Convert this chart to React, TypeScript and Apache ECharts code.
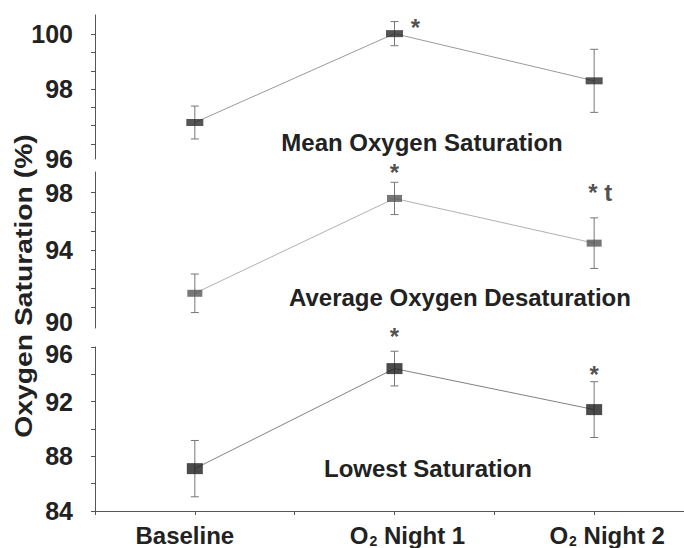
import React, { useEffect, useRef } from "react";
import * as echarts from "echarts";

// ---- data ----
const categories = ["Baseline", "O2 Night 1", "O2 Night 2"];
const xPositions = [1, 2, 3];

const meanSat = [96.78, 100.02, 98.3];
const meanSatSd = [0.6, 0.44, 1.15];

const avgDesat = [90.96, 97.6, 94.47];
const avgDesatSd = [1.35, 1.13, 1.77];

const lowestSat = [87.1, 94.42, 91.42];
const lowestSatSd = [2.06, 1.27, 2.04];

const panelTitles = ["Mean Oxygen Saturation", "Average Oxygen Desaturation", "Lowest Saturation"];

// significance marks: [x, y, text]
const meanSatMarks: [number, number, string][] = [[2.105, 100.25, "*"]];
const avgDesatMarks: [number, number, string][] = [
  [2, 99.45, "*"],
  [3.03, 98.0, "* t"],
];
const lowestSatMarks: [number, number, string][] = [
  [2, 96.75, "*"],
  [3, 93.98, "*"],
];

const topTicks = [96, 96.667, 97.333, 98, 98.667, 99.333, 100];
const topLabels = [96, 98, 100];
const midTicks = [90, 91.333, 92.667, 94, 95.333, 96.667, 98];
const midLabels = [90, 94, 98];
const botTicks = [84, 86, 88, 90, 92, 94, 96];
const botLabels = [84, 88, 92, 96];

const FONT = "Liberation Sans, Arial, Helvetica, sans-serif";

export default function App() {
  const ref = useRef<HTMLDivElement>(null);
  useEffect(() => {
    document.body.style.margin = "0";
    const chart = echarts.init(ref.current!, null, { renderer: "svg" });

    const grids = [
      { left: 95, right: 0, top: 15, height: 144 },
      { left: 95, right: 0, top: 172, height: 156 },
      { left: 95, right: 0, top: 347, height: 165 },
    ];
    const yRanges = [
      [95.45, 100.7],
      [88.53, 99.45],
      [84, 96],
    ];
    const tickSets = [topTicks, midTicks, botTicks];
    const labelSets = [topLabels, midLabels, botLabels];
    const lowLabel = [96, 90, 96];
    const lowPad = [30, 30, 14];

    const xLabelBase = { fontFamily: FONT, fontWeight: "bold", fontSize: 24, color: "#222" };

    const xAxes = grids.map((_, i) => ({
      type: "value",
      gridIndex: i,
      min: 0.5,
      max: 3.45,
      interval: 0.5,
      show: i === 2,
      axisLine: { show: true, lineStyle: { color: "#555", width: 1 } },
      axisTick: { show: true, inside: false, length: 4, lineStyle: { color: "#555" } },
      splitLine: { show: false },
      axisLabel: {
        show: true,
        customValues: xPositions,
        margin: 12,
        ...xLabelBase,
        formatter: (v: number) => {
          const idx = xPositions.indexOf(Math.round(v));
          const c = categories[idx] || "";
          if (c.startsWith("O2")) return "{o|O}{sub|2}{t|" + c.slice(2) + "}";
          return "{bl|" + c + "}";
        },
        rich: {
          bl: { ...xLabelBase, padding: [0, 20, 0, 0] },
          o: { ...xLabelBase, padding: [0, 0, 0, 26] },
          t: { ...xLabelBase },
          sub: { fontSize: 14, fontWeight: "bold", fontFamily: FONT, color: "#222", padding: [11, 0, 0, 1] },
        },
      },
    }));

    const yAxes = grids.map((_, i) => ({
      type: "value",
      gridIndex: i,
      min: yRanges[i][0],
      max: yRanges[i][1],
      axisLine: { show: true, lineStyle: { color: "#555", width: 1 } },
      axisTick: { show: true, inside: false, length: 4, customValues: tickSets[i], lineStyle: { color: "#555" } },
      splitLine: { show: false },
      axisLabel: {
        show: true,
        customValues: labelSets[i],
        margin: 22,
        formatter: (v: number) => (Math.abs(v - lowLabel[i]) < 0.01 ? "{low|" + Math.round(v) + "}" : "{n|" + Math.round(v) + "}"),
        rich: {
          n: { fontFamily: FONT, fontWeight: "bold", fontSize: 25, color: "#222" },
          low: { fontFamily: FONT, fontWeight: "bold", fontSize: 25, color: "#222", padding: [lowPad[i], 0, 0, 0] },
        },
      },
    }));

    const panels = [
      { v: meanSat, sd: meanSatSd, marks: meanSatMarks, size: [17, 7], mColor: "#2a2a2a", lColor: "#9a9a9a" },
      { v: avgDesat, sd: avgDesatSd, marks: avgDesatMarks, size: [15, 7], mColor: "#555", lColor: "#b0b0b0" },
      { v: lowestSat, sd: lowestSatSd, marks: lowestSatMarks, size: [16, 11], mColor: "#1e1e1e", lColor: "#808080" },
    ];

    const series: any[] = [];
    panels.forEach((p, i) => {
      series.push({
        type: "line",
        xAxisIndex: i,
        yAxisIndex: i,
        data: xPositions.map((x, k) => [x, p.v[k]]),
        symbol: "none",
        lineStyle: { color: p.lColor, width: 1 },
        z: 1,
      });
      series.push({
        type: "custom",
        xAxisIndex: i,
        yAxisIndex: i,
        data: xPositions.map((x, k) => [x, p.v[k], p.sd[k]]),
        encode: { x: 0, y: 1 },
        z: 2,
        renderItem: (params: any, api: any) => {
          const x = api.value(0);
          const y = api.value(1);
          const sd = api.value(2);
          const t = api.coord([x, y + sd]);
          const b = api.coord([x, y - sd]);
          const cap = 4;
          const st = { stroke: "#777", lineWidth: 1 };
          return {
            type: "group",
            children: [
              { type: "line", shape: { x1: t[0], y1: t[1], x2: b[0], y2: b[1] }, style: st },
              { type: "line", shape: { x1: t[0] - cap, y1: t[1], x2: t[0] + cap, y2: t[1] }, style: st },
              { type: "line", shape: { x1: b[0] - cap, y1: b[1], x2: b[0] + cap, y2: b[1] }, style: st },
            ],
          };
        },
      });
      series.push({
        type: "scatter",
        xAxisIndex: i,
        yAxisIndex: i,
        data: xPositions.map((x, k) => [x, p.v[k]]),
        symbol: "rect",
        symbolSize: p.size,
        itemStyle: { color: p.mColor },
        z: 3,
      });
      series.push({
        type: "scatter",
        xAxisIndex: i,
        yAxisIndex: i,
        clip: false,
        data: p.marks,
        symbolSize: 1,
        itemStyle: { color: "transparent" },
        z: 4,
        label: {
          show: true,
          position: "inside",
          formatter: (d: any) => d.value[2],
          fontFamily: FONT,
          fontWeight: "bold",
          fontSize: 24,
          color: "#222",
        },
      });
    });

    const titleStyle = { fontFamily: FONT, fontWeight: "bold", fontSize: 24, fill: "#222", textAlign: "center", textVerticalAlign: "middle" };

    chart.setOption({
      animation: false,
      grid: grids,
      xAxis: xAxes,
      yAxis: yAxes,
      series,
      graphic: [
        { type: "text", x: 422, y: 142, style: { ...titleStyle, text: panelTitles[0] } },
        { type: "text", x: 460, y: 297, style: { ...titleStyle, text: panelTitles[1] } },
        { type: "text", x: 428, y: 468, style: { ...titleStyle, text: panelTitles[2] } },
        {
          type: "text",
          x: 24,
          y: 286,
          rotation: Math.PI / 2,
          scaleX: 1.18,
          style: { ...titleStyle, text: "Oxygen Saturation (%)" },
        },
      ],
    });
    return () => chart.dispose();
  }, []);
  return <div ref={ref} style={{ width: 684, height: 548 }} />;
}
